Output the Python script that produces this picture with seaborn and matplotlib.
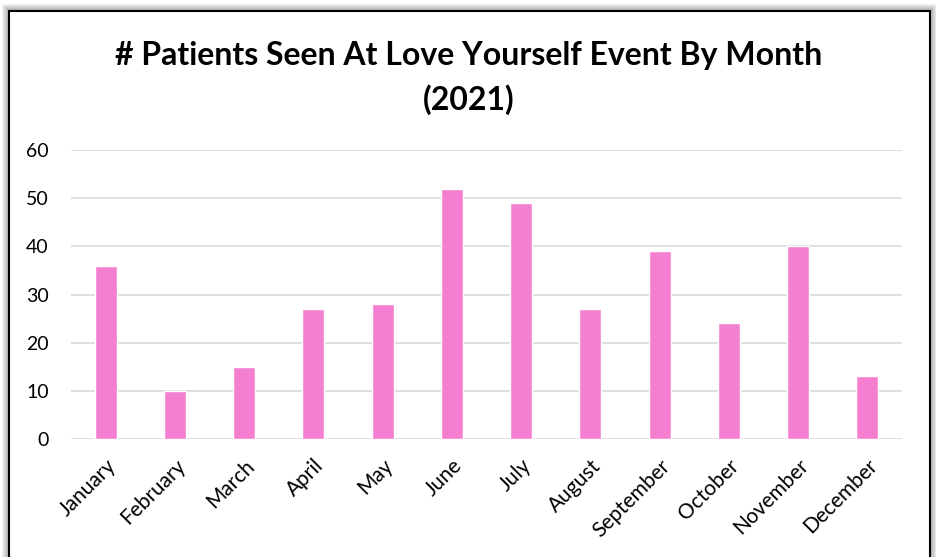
import matplotlib
matplotlib.use("Agg")
import matplotlib.pyplot as plt
import seaborn as sns
import pandas as pd
from matplotlib.patches import Rectangle

months = ["January", "February", "March", "April", "May", "June",
          "July", "August", "September", "October", "November", "December"]
patients = [36, 10, 15, 27, 28, 52, 49, 27, 39, 24, 40, 13]
yticks = [0, 10, 20, 30, 40, 50, 60]

df = pd.DataFrame({"Month": months, "Patients": patients})

sns.set_theme(style="white")
plt.rcParams["font.family"] = ["Lato", "DejaVu Sans"]

fig = plt.figure(figsize=(9.37, 5.57), dpi=100)
W, H = 937, 557

# background axes for the frame and its shadow
bg = fig.add_axes([0, 0, 1, 1], zorder=0)
bg.set_xlim(0, W)
bg.set_ylim(H, 0)
bg.axis("off")
for i in range(8):
    bg.add_patch(Rectangle((9 - i, 11 - i), 921 + 2 * i, 560, facecolor="#000000",
                           alpha=0.05, edgecolor="none"))
bg.add_patch(Rectangle((9, 11), 921, 560, facecolor="white",
                       edgecolor="black", linewidth=1.5))

ax = fig.add_axes([71 / W, 1 - 439 / H, 831 / W, 289 / H], zorder=2)
ax.set_facecolor("none")
sns.barplot(data=df, x="Month", y="Patients", color="#F47FD0", saturation=1,
            width=0.32, ax=ax, zorder=3)

ax.set_ylim(0, 60)
ax.set_xlim(-0.5, 11.5)
ax.set_yticks(yticks)
ax.yaxis.grid(True, color="#d9d9d9", linewidth=1.2, zorder=0)
ax.xaxis.grid(False)
for s in ax.spines.values():
    s.set_visible(False)
ax.set_xlabel("")
ax.set_ylabel("")
ax.tick_params(axis="y", labelsize=14, colors="#000000", length=0, pad=16)
ax.tick_params(axis="x", labelsize=15, colors="#000000", length=0, pad=12)
plt.setp(ax.get_xticklabels(), rotation=45, ha="right", rotation_mode="anchor")

fig.text(469 / W, 1 - 55 / H, "# Patients Seen At Love Yourself Event By Month",
         ha="center", va="center", fontsize=23, fontweight="bold", color="black")
fig.text(469 / W, 1 - 100 / H, "(2021)", ha="center", va="center",
         fontsize=23, fontweight="bold", color="black")

fig.savefig("out.png", dpi=100)
